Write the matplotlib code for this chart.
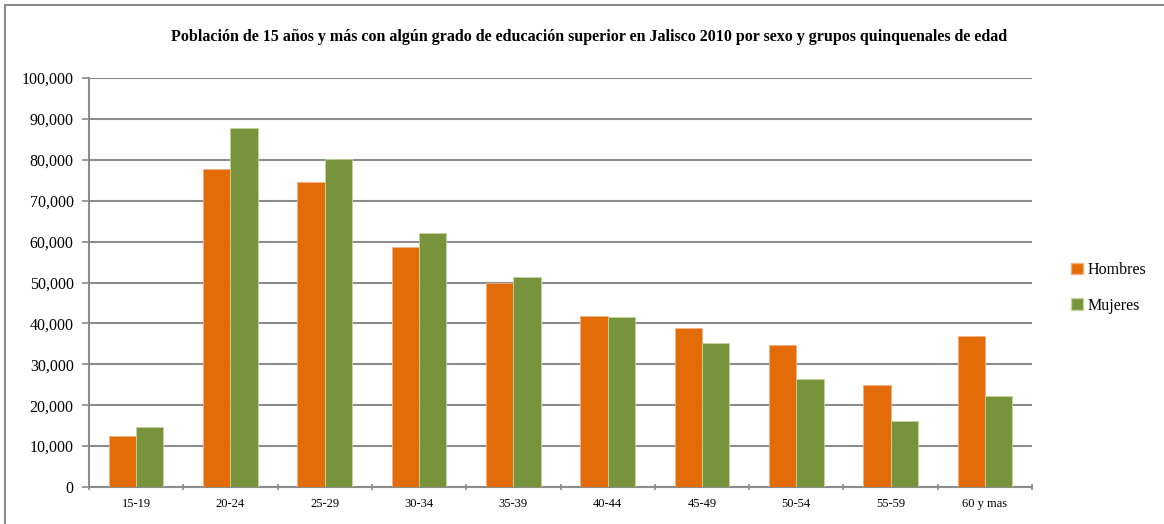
import numpy as np
import matplotlib.pyplot as plt
from matplotlib.patches import Rectangle, Patch

# Población con educación superior, Jalisco 2010
grupos = ["15-19", "20-24", "25-29", "30-34", "35-39",
          "40-44", "45-49", "50-54", "55-59", "60 y mas"]
hombres = [12400, 77700, 74500, 58800, 49800, 41700, 38900, 34600, 24900, 36800]
mujeres = [14700, 87700, 80100, 62000, 51400, 41600, 35300, 26500, 16100, 22200]

plt.rcParams["font.family"] = ["Liberation Serif", "DejaVu Serif"]

fig = plt.figure(figsize=(11.64, 5.24), dpi=100)
ax = fig.add_axes([89 / 1164, 1 - 487 / 524, 943 / 1164, 409 / 524])

x = np.arange(len(grupos))
w = 0.29
ax.bar(x - w / 2, hombres, w, color="#E36C09", edgecolor="#F4B183", linewidth=0.6, zorder=3)
ax.bar(x + w / 2, mujeres, w, color="#77933C", edgecolor="#C3D69B", linewidth=0.6, zorder=3)

ax.set_xlim(-0.5, len(grupos) - 0.5)
ax.set_ylim(0, 100000)
ax.set_yticks(np.arange(0, 100001, 10000))
ax.set_yticklabels([f"{v:,}" for v in range(0, 100001, 10000)], fontsize=11.5)
ax.set_xticks(x)
ax.set_xticklabels(grupos, fontsize=9)
ax.set_xticks(np.arange(-0.5, len(grupos)), minor=True)
ax.tick_params(axis="x", which="major", length=0, pad=8)
ax.tick_params(axis="x", which="minor", length=5, direction="inout", color="#888888", width=1.2)
ax.tick_params(axis="y", length=5, color="#888888", width=1.2, pad=6)

ax.yaxis.grid(True, color="#8C8C8C", linewidth=1.5, zorder=0)
ax.set_axisbelow(True)
for s in ["top", "right"]:
    ax.spines[s].set_visible(False)
for s in ["left", "bottom"]:
    ax.spines[s].set_color("#8C8C8C")
    ax.spines[s].set_linewidth(1.5)

fig.text(589 / 1164, 1 - 37 / 524,
         "Población de 15 años y más con algún grado de educación superior en Jalisco 2010 por sexo y grupos quinquenales de edad",
         ha="center", va="center", fontsize=11.5, fontweight="bold")

handles = [Patch(facecolor="#E36C09", edgecolor="#F4B183"),
           Patch(facecolor="#77933C", edgecolor="#C3D69B")]
fig.legend(handles, ["Hombres", "Mujeres"], loc="center left",
           bbox_to_anchor=(1057 / 1164, 1 - 288 / 524), frameon=False,
           fontsize=11.5, handlelength=0.7, handleheight=0.7, handletextpad=0.3,
           labelspacing=1.2)

# chart frame; right and bottom edges fall outside the canvas
fig.patches.append(Rectangle((5 / 1164, -10 / 524), 1170 / 1164, 529 / 524,
                             transform=fig.transFigure, fill=False,
                             edgecolor="#8C8C8C", linewidth=1.5))

fig.savefig("out.png", dpi=100)
